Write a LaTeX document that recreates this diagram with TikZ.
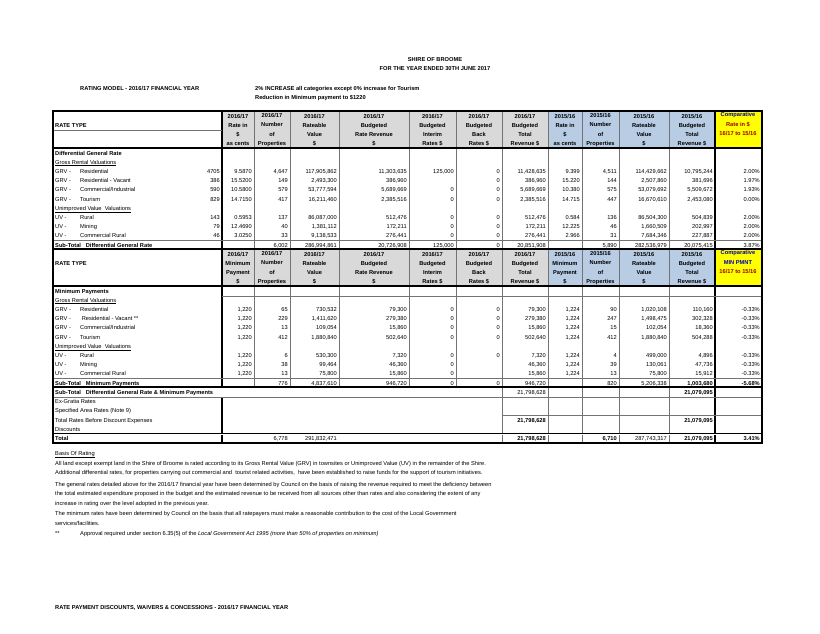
\documentclass[tikz,border=0pt]{standalone}
\usepackage{fontspec}
\setmainfont{Liberation Sans}
\usetikzlibrary{positioning}
\definecolor{hdgray}{HTML}{D9D9D9}
\definecolor{hdblue}{HTML}{B8CCE4}
\definecolor{hdyellow}{HTML}{FFFF00}
\newcommand\fs{\fontsize{5.7}{9.2}\selectfont}
\newcommand\redgeof[1]{\ifcase\numexpr#1\relax 222\or254\or290\or339\or409\or456\or502\or548\or582\or619\or669\or715\or762\fi}
% one table row of numbers, right aligned in the columns
\newcommand\trow[3]{%
  \foreach \v [count=\i] in {#3}{%
    \edef\xa{\redgeof{\i-1}}
    \pgfmathsetmacro\xr{\xa-2}
    \node[num] (#1-\i) at (\xr,#2+2) {\v};}}
% row label: prefix and category
\newcommand\lab[4]{%
  \node[txt] (#1a) at (55,#2+2) {#3};
  \node[txt] (#1b) at (80,#2+2) {#4};}
\begin{document}
\begin{tikzpicture}[x=1pt,y=-1pt]
\tikzstyle{num} = [anchor=base east,inner sep=0,font=\fs]
\tikzstyle{txt} = [anchor=base west,inner sep=0,font=\fs]
\tikzstyle{hd} = [align=center,inner sep=0,font=\fs\bfseries]
\tikzstyle{grid} = [draw=black!55,line width=0.6pt]
\tikzstyle{frame} = [draw=black,line width=1.2pt]
\useasboundingbox (0,0) rectangle (820,633);
\fill[white] (0,0) rectangle (820,633);
% titles
\node[hd] (title1) at (435,60) {SHIRE OF BROOME};
\node[hd] (title2) at (435,69) {FOR THE YEAR ENDED 30TH JUNE 2017};
\node[txt,font=\fs\bfseries] (model) at (80,90) {RATING MODEL - 2016/17 FINANCIAL YEAR};
\node[txt,font=\fs\bfseries] (incr) at (255,90) {2\% INCREASE all categories except 0\% increase for Tourism};
\node[txt,font=\fs\bfseries] (redu) at (255,99) {Reduction in Minimum payment to \$1220};
% header fills
\foreach \yt in {111,249}{
  \fill[hdgray] (222,\yt) rectangle (548,\yt+37);
  \fill[hdblue] (548,\yt) rectangle (715,\yt+37);
  \fill[hdyellow] (715,\yt) rectangle (762,\yt+37);
}
% headers, first table
\node[txt,font=\fs\bfseries] (rt1) at (55,127) {RATE TYPE};
\foreach \t [count=\i] in {
  {2016/17\\Rate in\\\$\\as cents},{2016/17\\Number\\of\\Properties},
  {2016/17\\Rateable\\Value\\\$},{2016/17\\Budgeted\\Rate Revenue\\\$},
  {2016/17\\Budgeted\\Interim\\Rates \$},{2016/17\\Budgeted\\Back\\Rates \$},
  {2016/17\\Budgeted\\Total\\Revenue \$},{2015/16\\Rate in\\\$\\as cents},
  {2015/16\\Number\\of\\Properties},{2015/16\\Rateable\\Value\\\$},
  {2015/16\\Budgeted\\Total\\Revenue \$}}{
  \edef\xa{\redgeof{\i-1}}\edef\xb{\redgeof{\i}}
  \pgfmathsetmacro\xc{(\xa+\xb)/2}
  \node[hd] (ha-\i) at (\xc,130) {\t};}
\node[hd] (ha-12) at (738,124) {\textcolor{blue!70!black}{Comparative}\\\textcolor{red!60!black}{Rate in \$}\\\textcolor{red!60!black}{16/17 to 15/16}};
% headers, second table
\node[txt,font=\fs\bfseries] (rt2) at (55,265) {RATE TYPE};
\foreach \t [count=\i] in {
  {2016/17\\Minimum\\Payment\\\$},{2016/17\\Number\\of\\Properties},
  {2016/17\\Rateable\\Value\\\$},{2016/17\\Budgeted\\Rate Revenue\\\$},
  {2016/17\\Budgeted\\Interim\\Rates \$},{2016/17\\Budgeted\\Back\\Rates \$},
  {2016/17\\Budgeted\\Total\\Revenue \$},{2015/16\\Minimum\\Payment\\\$},
  {2015/16\\Number\\of\\Properties},{2015/16\\Rateable\\Value\\\$},
  {2015/16\\Budgeted\\Total\\Revenue \$}}{
  \edef\xa{\redgeof{\i-1}}\edef\xb{\redgeof{\i}}
  \pgfmathsetmacro\xc{(\xa+\xb)/2}
  \node[hd] (hb-\i) at (\xc,268) {\t};}
\node[hd] (hb-12) at (738,262) {\textcolor{blue!70!black}{Comparative}\\\textcolor{blue!70!black}{MIN PMNT}\\\textcolor{red!60!black}{16/17 to 15/16}};
% first table rows
\node[txt,font=\fs\bfseries] (dgr) at (55,155) {Differential General Rate};
\node[txt] (grv1) at (55,164) {\underline{Gross Rental Valuations}};
\lab{r1}{171}{GRV -}{Residential}
\trow{r1}{171}{4705,9.5870,{4,647},{117,905,862},{11,303,635},{125,000},0,{11,428,635},9.399,{4,511},{114,429,662},{10,795,244},2.00\%}
\lab{r2}{180}{GRV -}{Residential - Vacant}
\trow{r2}{180}{386,15.5200,149,{2,493,300},{386,960},,0,{386,960},15.220,144,{2,507,860},{381,696},1.97\%}
\lab{r3}{189}{GRV -}{Commercial/Industrial}
\trow{r3}{189}{590,10.5800,579,{53,777,594},{5,689,669},0,0,{5,689,669},10.380,575,{53,079,692},{5,509,672},1.93\%}
\lab{r4}{199}{GRV -}{Tourism}
\trow{r4}{199}{829,14.7150,417,{16,211,460},{2,385,516},0,0,{2,385,516},14.715,447,{16,670,610},{2,453,080},0.00\%}
\node[txt] (uv1) at (55,210) {\underline{Unimproved Value\ \ Valuations}};
\lab{r5}{217}{UV -}{Rural}
\trow{r5}{217}{143,0.5953,137,{86,087,000},{512,476},0,0,{512,476},0.584,136,{86,504,300},{504,839},2.00\%}
\lab{r6}{226}{UV -}{Mining}
\trow{r6}{226}{79,12.4690,40,{1,381,112},{172,211},0,0,{172,211},12.225,46,{1,660,509},{202,997},2.00\%}
\lab{r7}{235}{UV -}{Commercial Rural}
\trow{r7}{235}{46,3.0250,33,{9,138,533},{276,441},0,0,{276,441},2.966,31,{7,684,346},{227,887},2.00\%}
\node[txt,font=\fs\bfseries] (st1) at (55,247) {Sub-Total\ \ \ Differential General Rate};
\trow{s1}{245}{,,{6,002},{286,994,861},{20,726,908},{125,000},0,{20,851,908},,{5,890},{282,536,979},{20,075,415},3.87\%}
% second table rows
\node[txt,font=\fs\bfseries] (mp) at (55,293) {Minimum Payments};
\node[txt] (grv2) at (55,302) {\underline{Gross Rental Valuations}};
\lab{m1}{309}{GRV -}{Residential}
\trow{m1}{309}{,{1,220},65,{730,532},{79,300},0,0,{79,300},{1,224},90,{1,020,108},{110,160},-0.33\%}
\lab{m2}{318}{GRV -}{\ Residential - Vacant **}
\trow{m2}{318}{,{1,220},229,{1,411,620},{279,380},0,0,{279,380},{1,224},247,{1,498,475},{302,328},-0.33\%}
\lab{m3}{327}{GRV -}{Commercial/Industrial}
\trow{m3}{327}{,{1,220},13,{109,054},{15,860},0,0,{15,860},{1,224},15,{102,054},{18,360},-0.33\%}
\lab{m4}{337}{GRV -}{Tourism}
\trow{m4}{337}{,{1,220},412,{1,880,840},{502,640},0,0,{502,640},{1,224},412,{1,880,840},{504,288},-0.33\%}
\node[txt] (uv2) at (55,348) {\underline{Unimproved Value\ \ Valuations}};
\lab{m5}{355}{UV -}{Rural}
\trow{m5}{355}{,{1,220},6,{530,300},{7,320},0,0,{7,320},{1,224},4,{499,000},{4,896},-0.33\%}
\lab{m6}{364}{UV -}{Mining}
\trow{m6}{364}{,{1,220},38,{99,464},{46,360},0,,{46,360},{1,224},39,{130,061},{47,736},-0.33\%}
\lab{m7}{373}{UV -}{Commercial Rural}
\trow{m7}{373}{,{1,220},13,{75,800},{15,860},0,,{15,860},{1,224},13,{75,800},{15,912},-0.33\%}
\node[txt,font=\fs\bfseries] (st2) at (55,385) {Sub-Total\ \ \ Minimum Payments};
\trow{s2}{383}{,,776,{4,837,610},{946,720},0,0,{946,720},,820,{5,206,338},\textbf{1,003,680},\textbf{-5.68\%}}
\node[txt,font=\fs\bfseries] (st3) at (55,394) {Sub-Total\ \ \ Differential General Rate \& Minimum Payments};
\trow{s3}{392}{,,,,,,,{21,798,628},,,,\textbf{21,079,095},}
\node[txt] (exg) at (55,403) {Ex-Gratia Rates};
\node[txt] (sar) at (55,412) {Specified Area Rates (Note 9)};
\node[txt] (trb) at (55,422) {Total Rates Before Discount Expenses};
\trow{tb}{420}{,,,,,,,\textbf{21,798,628},,,,\textbf{21,079,095},}
\node[txt] (disc) at (55,431) {Discounts};
\node[txt,font=\fs\bfseries] (tot) at (55,440) {Total};
\trow{t}{438}{,,{6,778},{291,832,471},,,,\textbf{21,798,628},,\textbf{6,710},{287,743,317},\textbf{21,079,095},\textbf{3.41\%}}
% grid lines
\foreach \x in {254,290,339,409,456}
  \draw[grid] (\x,111) -- (\x,387);
\foreach \x in {502,548,582,619,669}
  \draw[grid] (\x,111) -- (\x,443);
\draw[frame] (222,111) -- (222,387) (222,397) -- (222,443) (715,111) -- (715,443);
\draw[grid] (53,130) -- (222,130);
\draw[grid] (222,296) -- (762,296);
\draw[grid] (53,240) -- (762,240) (53,378) -- (762,378);
\draw[grid] (53,397) -- (762,397) (502,415) -- (762,415);
\draw[frame] (53,148) -- (762,148) (53,249) -- (762,249) (53,286) -- (762,286);
\draw[frame] (53,387) -- (762,387);
\draw[frame,double,line width=0.5pt] (53,434) -- (762,434);
\draw[frame] (53,111) rectangle (762,443);
% notes
\node[txt] (basis) at (55,455) {\underline{Basis Of Rating}};
\node[txt] (n1) at (55,465) {All land except exempt land in the Shire of Broome is rated according to its Gross Rental Value (GRV) in townsites or Unimproved Value (UV) in the remainder of the Shire.};
\node[txt] (n2) at (55,474) {Additional differential rates, for properties carrying out commercial and\ \ tourist related activities,\ \ have been established to raise funds for the support of tourism initiatives.};
\node[txt] (n3) at (55,486) {The general rates detailed above for the 2016/17 financial year have been determined by Council on the basis of raising the revenue required to meet the deficiency between};
\node[txt] (n4) at (55,495) {the total estimated expenditure proposed in the budget and the estimated revenue to be received from all sources other than rates and also considering the extent of any};
\node[txt] (n5) at (55,505) {increase in rating over the level adopted in the previous year.};
\node[txt] (n6) at (55,515) {The minimum rates have been determined by Council on the basis that all ratepayers must make a reasonable contribution to the cost of the Local Government};
\node[txt] (n7) at (55,525) {services/facilities.};
\node[txt] (n8a) at (55,535) {**};
\node[txt] (n8b) at (80,535) {Approval required under section 6.35(5) of the \textit{Local Government Act 1995 (more than 50\% of properties on minimum)}};
\node[txt,font=\fs\bfseries] (disc2) at (55,609) {RATE PAYMENT DISCOUNTS, WAIVERS \& CONCESSIONS - 2016/17 FINANCIAL YEAR};
\end{tikzpicture}
\end{document}
